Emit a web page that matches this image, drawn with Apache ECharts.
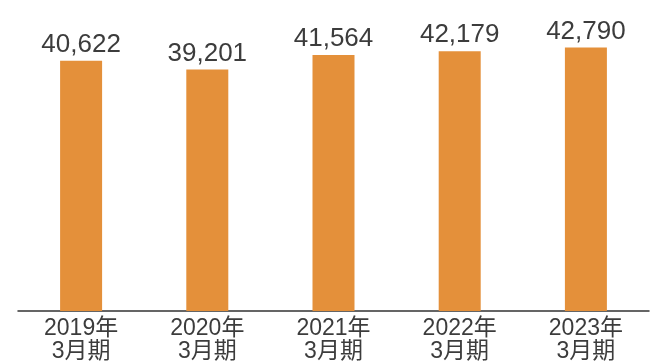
<!DOCTYPE html>
<html>
<head>
<meta charset="utf-8">
<script src="https://cdn.jsdelivr.net/npm/echarts@6/dist/echarts.min.js"></script>
<style>
html,body{margin:0;padding:0;background:#fff;}
#chart{width:656px;height:363px;}
</style>
</head>
<body>
<div id="chart"></div>
<script>
var categories = ['2019年\n3月期', '2020年\n3月期', '2021年\n3月期', '2022年\n3月期', '2023年\n3月期'];
var values = [40622, 39201, 41564, 42179, 42790];

var chart = echarts.init(document.getElementById('chart'), null, {renderer: 'canvas'});
chart.setOption({
  animation: false,
  backgroundColor: '#ffffff',
  grid: {left: 18, right: 7, top: 3, bottom: 51, containLabel: false},
  xAxis: {
    type: 'category',
    data: categories,
    axisLine: {show: true, lineStyle: {color: '#333333', width: 1.5}},
    axisTick: {show: false},
    axisLabel: {
      interval: 0,
      margin: 6,
      color: '#3c3c3c',
      fontFamily: 'Liberation Sans, Noto Sans CJK JP, sans-serif',
      fontSize: 23,
      lineHeight: 23
    }
  },
  yAxis: {
    type: 'value',
    min: 0,
    max: 50000,
    show: false,
    splitLine: {show: false}
  },
  series: [{
    type: 'bar',
    data: values,
    barWidth: 42,
    itemStyle: {color: '#E4903A'},
    label: {
      show: true,
      position: 'top',
      distance: 3,
      color: '#3c3c3c',
      fontFamily: 'Liberation Sans, sans-serif',
      fontSize: 26,
      formatter: function (p) { return p.value.toLocaleString('en-US'); }
    }
  }]
});
</script>
</body>
</html>
